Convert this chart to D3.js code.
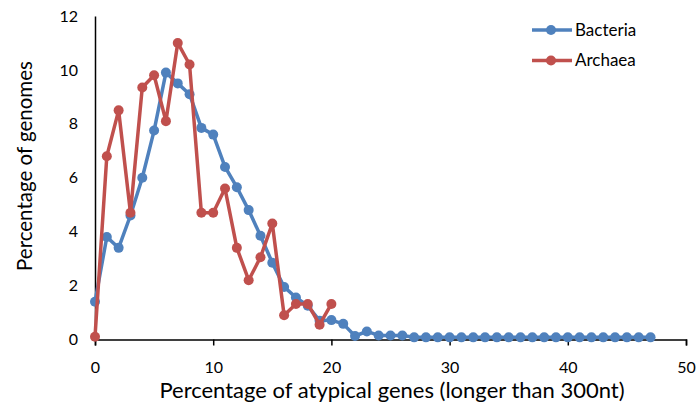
<!DOCTYPE html>
<html>
<head>
<meta charset="UTF-8">
<script src="https://d3js.org/d3.v7.min.js"></script>
<style>
  body { margin: 0; background: #fff; }
  text { font-family: Lato, "Open Sans", sans-serif; fill: #000; }
</style>
</head>
<body>
<svg width="696" height="410"></svg>
<script>
// values
var bacteriaX = d3.range(0, 48);
var bacteria = [1.4, 3.8, 3.4, 4.6, 6.0, 7.75, 9.9, 9.5, 9.1, 7.85, 7.6, 6.4,
                5.65, 4.8, 3.85, 2.85, 1.95, 1.56, 1.25, 0.7, 0.72, 0.58, 0.13, 0.3,
                0.15, 0.15, 0.15, 0.08, 0.08, 0.08, 0.08, 0.08, 0.08, 0.08, 0.08, 0.08,
                0.08, 0.08, 0.08, 0.08, 0.08, 0.08, 0.08, 0.08, 0.08, 0.08, 0.08, 0.08];
var archaeaX = d3.range(0, 21);
var archaea = [0.1, 6.8, 8.5, 4.7, 9.35, 9.8, 8.1, 11.0, 10.2, 4.7, 4.7, 5.6,
               3.4, 2.2, 3.05, 4.3, 0.9, 1.32, 1.32, 0.55, 1.32];
var xTicks = [0, 10, 20, 30, 40, 50];
var yTicks = [0, 2, 4, 6, 8, 10, 12];

var series = [
    { name: "Bacteria", xs: bacteriaX, ys: bacteria, color: "#4f81bd" },
    { name: "Archaea", xs: archaeaX, ys: archaea, color: "#c0504d" }
];

var svg = d3.select("svg");
var margin = { left: 95, right: 10, top: 16, bottom: 70.5 };
var width = 696 - margin.left - margin.right,
    height = 410 - margin.top - margin.bottom;

var x = d3.scaleLinear().domain([0, 50]).range([0, width]);
var y = d3.scaleLinear().domain([0, 12]).range([height, 0]);

var g = svg.append("g")
    .attr("transform", "translate(" + margin.left + "," + margin.top + ")");

// x axis
var xa = g.append("g")
    .attr("transform", "translate(0," + height + ")")
    .call(d3.axisBottom(x).tickValues(xTicks).tickSize(6).tickPadding(16));
xa.select(".domain").attr("stroke", "#000").attr("stroke-width", 1.5);
xa.selectAll(".tick line").attr("stroke", "#000").attr("stroke-width", 1.5);
xa.selectAll("text").style("font-size", "16px");

// y axis
var ya = g.append("g")
    .call(d3.axisLeft(y).tickValues(yTicks).tickSize(0).tickPadding(17));
ya.select(".domain").attr("stroke", "#000").attr("stroke-width", 1.5);
ya.selectAll("text").style("font-size", "16px");

var line = d3.line()
    .x(function(d) { return x(d[0]); })
    .y(function(d) { return y(d[1]); });

series.forEach(function(s) {
    var pts = s.xs.map(function(v, i) { return [v, s.ys[i]]; });
    g.append("path")
        .datum(pts)
        .attr("fill", "none")
        .attr("stroke", s.color)
        .attr("stroke-width", 3.5)
        .attr("stroke-linejoin", "round")
        .attr("d", line);
    g.selectAll(null)
        .data(pts)
        .enter().append("circle")
        .attr("cx", function(d) { return x(d[0]); })
        .attr("cy", function(d) { return y(d[1]); })
        .attr("r", 5)
        .attr("fill", s.color);
});

// legend
var lg = svg.append("g").attr("transform", "translate(532,30)");
series.forEach(function(s, i) {
    var row = lg.append("g").attr("transform", "translate(0," + (i * 30.5) + ")");
    row.append("line").attr("x1", 0).attr("x2", 40)
        .attr("stroke", s.color).attr("stroke-width", 3.5);
    row.append("circle").attr("cx", 19).attr("r", 5).attr("fill", s.color);
    row.append("text").attr("x", 43).attr("dy", "0.35em")
        .style("font-size", "17px").text(s.name);
});

// axis titles
svg.append("text")
    .attr("x", 392).attr("y", 398)
    .attr("text-anchor", "middle")
    .style("font-size", "22px")
    .text("Percentage of atypical genes (longer than 300nt)");

svg.append("text")
    .attr("transform", "translate(32,166) rotate(-90)")
    .attr("text-anchor", "middle")
    .style("font-size", "20.5px")
    .text("Percentage of genomes");
</script>
</body>
</html>
